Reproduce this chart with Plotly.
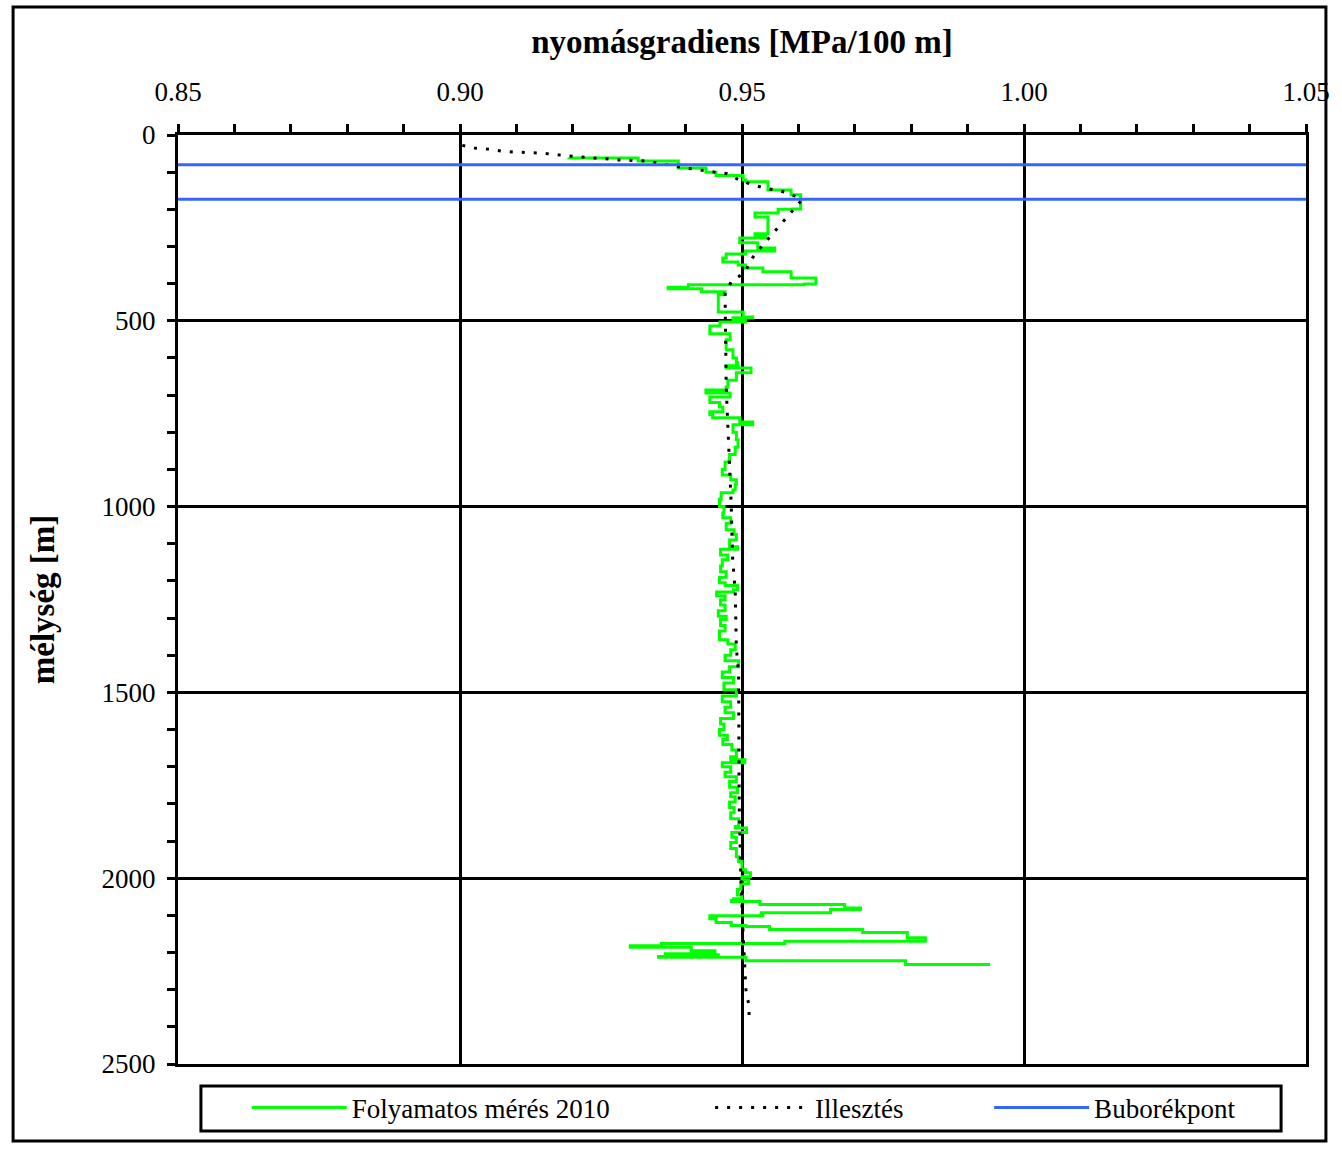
import plotly.graph_objects as go

# ---------------- data ----------------
meas_depth = [61, 62, 70, 89, 100, 108, 109, 121, 126, 140, 148, 161, 188, 199, 200, 210, 221, 258, 266, 272,
              277, 290, 304, 312, 320, 331, 342, 350, 358, 368, 379, 385, 395, 401, 403, 410, 414, 422, 430, 473,
              476, 490, 492, 500, 503, 514, 533, 535, 551, 578, 600, 613, 621, 627, 640, 660, 678, 686, 694, 705,
              720, 732, 745, 753, 761, 772, 780, 800, 820, 840, 860, 880, 900, 915, 928, 940, 955, 963, 980, 1000,
              1017, 1030, 1045, 1062, 1075, 1090, 1108, 1115, 1130, 1143, 1160, 1175, 1190, 1205, 1212, 1224, 1230,
              1240, 1251, 1265, 1280, 1295, 1304, 1320, 1335, 1358, 1370, 1385, 1400, 1415, 1431, 1445, 1460, 1475,
              1493, 1510, 1525, 1540, 1555, 1570, 1585, 1600, 1615, 1627, 1640, 1655, 1673, 1681, 1689, 1700, 1715,
              1727, 1740, 1755, 1770, 1781, 1795, 1810, 1824, 1840, 1861, 1865, 1877, 1890, 1904, 1920, 1942, 1955,
              1977, 1985, 1996, 2005, 2015, 2030, 2045, 2055, 2060, 2063, 2071, 2080, 2084, 2093, 2098, 2101, 2109,
              2119, 2127, 2130, 2138, 2146, 2160, 2166, 2170, 2176, 2182, 2186, 2195, 2203, 2206, 2211, 2213, 2222,
              2232]
meas_grad = [0.9193, 0.9316, 0.9387, 0.9436, 0.9454, 0.9454, 0.9502, 0.9507, 0.9546, 0.9546, 0.9587, 0.9604,
             0.9604, 0.9590, 0.9564, 0.9523, 0.9546, 0.9546, 0.9523, 0.9542, 0.9496, 0.9528, 0.9558, 0.9506, 0.9472,
             0.9466, 0.9493, 0.9506, 0.9537, 0.9587, 0.9587, 0.9631, 0.9631, 0.9611, 0.9405, 0.9369, 0.9428, 0.9470,
             0.9458, 0.9458, 0.9502, 0.9519, 0.9484, 0.9506, 0.9461, 0.9443, 0.9443, 0.9479, 0.9472, 0.9484, 0.9490,
             0.9493, 0.9472, 0.9516, 0.9490, 0.9475, 0.9472, 0.9436, 0.9479, 0.9443, 0.9460, 0.9466, 0.9443, 0.9448,
             0.9496, 0.9519, 0.9484, 0.9490, 0.9493, 0.9488, 0.9478, 0.9470, 0.9465, 0.9480, 0.9490, 0.9488, 0.9484,
             0.9463, 0.9460, 0.9468, 0.9466, 0.9480, 0.9472, 0.9486, 0.9490, 0.9478, 0.9492, 0.9462, 0.9475, 0.9465,
             0.9462, 0.9472, 0.9460, 0.9470, 0.9492, 0.9485, 0.9455, 0.9470, 0.9462, 0.9470, 0.9458, 0.9472, 0.9462,
             0.9470, 0.9460, 0.9475, 0.9488, 0.9480, 0.9470, 0.9494, 0.9478, 0.9465, 0.9485, 0.9468, 0.9490, 0.9465,
             0.9480, 0.9470, 0.9485, 0.9462, 0.9468, 0.9460, 0.9474, 0.9466, 0.9482, 0.9490, 0.9480, 0.9505, 0.9465,
             0.9480, 0.9470, 0.9490, 0.9478, 0.9492, 0.9480, 0.9488, 0.9478, 0.9486, 0.9480, 0.9494, 0.9488, 0.9508,
             0.9482, 0.9490, 0.9480, 0.9490, 0.9494, 0.9500, 0.9506, 0.9515, 0.9500, 0.9512, 0.9498, 0.9492, 0.9500,
             0.9485, 0.9481, 0.9532, 0.9682, 0.9710, 0.9657, 0.9534, 0.9537, 0.9443, 0.9454, 0.9481, 0.9507, 0.9549,
             0.9714, 0.9793, 0.9825, 0.9825, 0.9576, 0.9357, 0.9302, 0.9410, 0.9452, 0.9364, 0.9458, 0.9352, 0.9507,
             0.9790, 0.9940]

fit_depth = [28, 35, 38, 43, 46, 49, 56, 62, 67, 70, 89, 100, 104, 121, 134, 143, 156, 175, 207, 229, 256, 317,
             336, 368, 395, 425, 680, 850, 1000, 1130, 1230, 1380, 1450, 1800, 2000, 2150, 2300, 2340, 2385]
fit_grad = [0.9004, 0.9026, 0.9049, 0.9073, 0.9098, 0.9146, 0.9190, 0.9238, 0.9281, 0.9330, 0.9401, 0.9452,
            0.9473, 0.9495, 0.9518, 0.9542, 0.9583, 0.9606, 0.9588, 0.9574, 0.9560, 0.9525, 0.9516, 0.9506, 0.9481,
            0.9470, 0.9472, 0.9477, 0.9481, 0.9483, 0.9488, 0.9490, 0.9494, 0.9495, 0.9498, 0.9502, 0.9507, 0.9512,
            0.9513]

bubble_depths = [80, 173]
x_range = [0.85, 1.05]
y_range = [2500, 0]

series_names = ["Folyamatos mérés 2010", "Illesztés", "Buborékpont"]
x_title = "nyomásgradiens [MPa/100 m]"
y_title = "mélység [m]"

FONT = "Liberation Serif"

fig = go.Figure()
fig.add_trace(go.Scatter(x=meas_grad, y=meas_depth, mode="lines", name=series_names[0],
                         line=dict(color="#00FF00", width=3, shape="vh"), legend="legend"))
fig.add_trace(go.Scatter(x=fit_grad, y=fit_depth, mode="lines", name=series_names[1],
                         line=dict(color="black", width=3, dash="3px,9px"), legend="legend2"))
bx, by = [], []
for d in bubble_depths:
    bx += [x_range[0], x_range[1], None]
    by += [d, d, None]
fig.add_trace(go.Scatter(x=bx, y=by, mode="lines", name=series_names[2],
                         line=dict(color="#3366FF", width=3), legend="legend3"))

axis_common = dict(showline=True, linecolor="black", linewidth=3, mirror=True,
                   showgrid=True, gridcolor="black", gridwidth=3, zeroline=False,
                   ticks="outside", ticklen=8, tickwidth=3, tickcolor="black")

fig.update_layout(
    width=1342, height=1154,
    margin=dict(l=178, r=32, t=135, b=90),
    paper_bgcolor="white", plot_bgcolor="white",
    font=dict(family=FONT, size=27, color="black"),
    xaxis=dict(side="top", range=x_range, tick0=0.85, dtick=0.05, tickformat=".2f",
               minor=dict(dtick=0.01, tick0=0.85, ticks="outside", ticklen=8, tickwidth=3,
                          tickcolor="black", showgrid=False),
               ticklabelstandoff=12,
               title=dict(text="<b>" + x_title + "</b>", font=dict(size=33), standoff=14),
               **axis_common),
    yaxis=dict(range=y_range, tick0=0, dtick=500,
               minor=dict(dtick=100, tick0=0, ticks="outside", ticklen=8, tickwidth=3,
                          tickcolor="black", showgrid=False),
               ticklabelstandoff=6,
               title=dict(text="<b>" + y_title + "</b>", font=dict(size=33), standoff=38),
               **axis_common),
    showlegend=True,
)

leg_common = dict(orientation="h", yanchor="middle", y=-0.0474, xanchor="left",
                  bgcolor="rgba(0,0,0,0)", borderwidth=0, itemwidth=95,
                  font=dict(family=FONT, size=27, color="black"))
fig.update_layout(
    legend=dict(x=(247 - 178) / 1132, **leg_common),
    legend2=dict(x=(712 - 178) / 1132, **leg_common),
    legend3=dict(x=(992 - 178) / 1132, **leg_common),
)

# outer frame and legend box
fig.add_shape(type="rect", xref="paper", yref="paper",
              x0=(12.5 - 178) / 1132, x1=(1330 - 178) / 1132,
              y0=(1064 - 1141) / 929, y1=(1064 - 7) / 929,
              line=dict(color="black", width=3), fillcolor="rgba(0,0,0,0)", layer="below")
fig.add_shape(type="rect", xref="paper", yref="paper",
              x0=(201 - 178) / 1132, x1=(1285 - 178) / 1132,
              y0=(1064 - 1131) / 929, y1=(1064 - 1086) / 929,
              line=dict(color="black", width=3), fillcolor="rgba(0,0,0,0)")

fig.write_html("out.html")
